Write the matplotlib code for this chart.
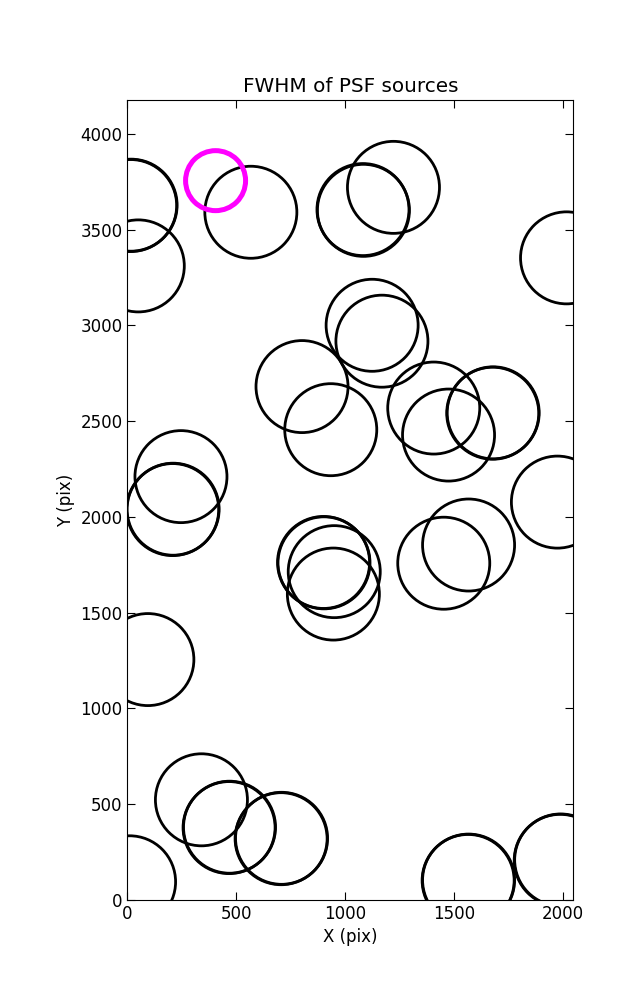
import matplotlib
matplotlib.use('Agg')
import matplotlib.pyplot as plt

# source positions (pix)
src_x = [15, 17, 50, 567, 1084, 1082, 1222, 2017, 1124, 1169,
         802, 934, 1407, 1475, 1678, 1680, 1975, 246, 208, 210,
         94, 903, 901, 950, 946, 1453, 1567, 340, 467, 469,
         706, 708, 10, 1567, 1565, 1988, 1990]
src_y = [3625, 3627, 3310, 3590, 3600, 3604, 3720, 3352, 3000, 2917,
         2680, 2455, 2568, 2427, 2541, 2543, 2077, 2210, 2038, 2040,
         1255, 1760, 1762, 1714, 1597, 1758, 1853, 523, 378, 380,
         320, 322, 95, 104, 102, 207, 209]

# highlighted source
hl_x = [405]
hl_y = [3755]

plt.rcParams['font.size'] = 12
plt.rcParams['xtick.direction'] = 'in'
plt.rcParams['ytick.direction'] = 'in'
plt.rcParams['xtick.top'] = True
plt.rcParams['ytick.right'] = True
plt.rcParams['xtick.major.size'] = 6
plt.rcParams['ytick.major.size'] = 6

fig = plt.figure(figsize=(6.37, 10), dpi=100)
fig.subplots_adjust(left=0.2, right=0.9, bottom=0.1, top=0.9)
ax = fig.add_subplot(111)

ax.scatter(src_x, src_y, s=4390, facecolors='none', edgecolors='k', linewidths=2)
ax.scatter(hl_x, hl_y, s=1866, facecolors='none', edgecolors='magenta', linewidths=3.6)

ax.set_xlim(0, 2048)
ax.set_ylim(0, 4176)
ax.set_xticks(range(0, 2001, 500))
ax.set_yticks(range(0, 4001, 500))
ax.set_xlabel('X (pix)')
ax.set_ylabel('Y (pix)')
ax.set_title('FWHM of PSF sources')

fig.savefig('out.png', dpi=100)
